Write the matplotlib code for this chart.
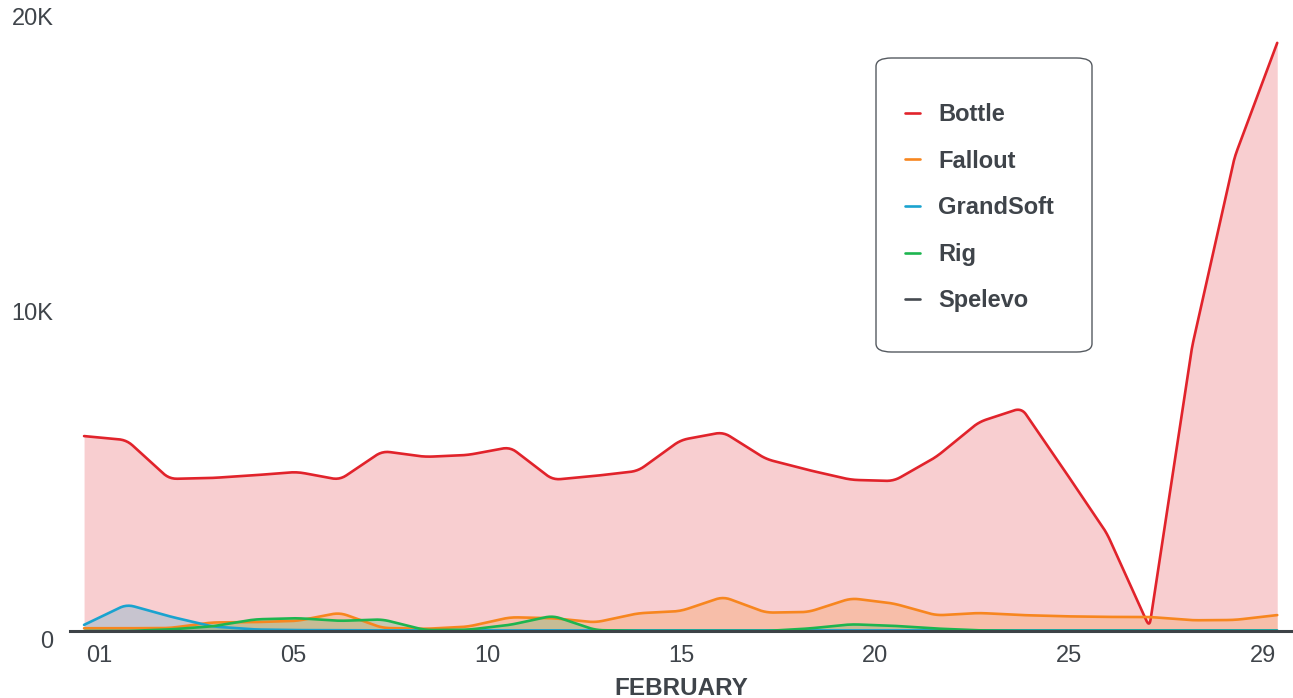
import numpy as np
import matplotlib.pyplot as plt
from matplotlib.patches import FancyBboxPatch

# ================================
# DATA (daily values, February)
# ================================
days = list(range(1, 30))

bottle = [6370, 6240, 4970, 5000, 5090, 5200, 4940, 5880, 5690, 5750,
          6010, 4940, 5070, 5230, 6240, 6500, 5620, 5260, 4940, 4900,
          5690, 6830, 7290, 5260, 3200, 120, 9280, 15490, 19220]
fallout = [90, 90, 95, 280, 290, 330, 600, 100, 70, 140,
           450, 420, 280, 580, 650, 1120, 600, 620, 1070, 900,
           510, 590, 520, 480, 460, 460, 350, 360, 520]
grandsoft = [200, 870, 480, 150, 50, 30, 25, 20, 20, 20,
             20, 20, 20, 20, 20, 20, 20, 20, 20, 20,
             20, 20, 20, 20, 20, 20, 20, 20, 20]
rig = [0, 0, 50, 150, 380, 420, 330, 380, 30, 40,
       200, 500, 30, 0, 0, 0, 0, 80, 220, 170,
       80, 20, 0, 0, 0, 0, 0, 0, 0]
spelevo = [0] * 29

series = ["Bottle", "Fallout", "GrandSoft", "Rig", "Spelevo"]
values = [bottle, fallout, grandsoft, rig, spelevo]
colors = ["#e1232b", "#f7861f", "#1aa3cf", "#1db54f", "#454a50"]

xtick_labels = ["01", "05", "10", "15", "20", "25", "29"]
ytick_vals = [0, 10000, 20000]
ytick_labels = ["0", "10K", "20K"]

FONT = "Liberation Sans"
TXT = "#3f444a"

W, H = 1293, 698
XLIM = (0.67, 29.37)
YLIM = (0, 20000)
AX_PX = (70, 19, 1293, 631)   # left, top, right, bottom in pixels


def rounded_line(x, y, sx, sy, radius=8, n=12):
    # straight segments with the corners softened by a few pixels
    p = np.column_stack([np.asarray(x, float) * sx, np.asarray(y, float) * sy])
    out = [p[:1]]
    for i in range(1, len(p) - 1):
        v_in = p[i] - p[i - 1]
        v_out = p[i + 1] - p[i]
        d_in, d_out = np.linalg.norm(v_in), np.linalg.norm(v_out)
        r = min(radius, 0.45 * d_in, 0.45 * d_out)
        a = p[i] - v_in / d_in * r
        b = p[i] + v_out / d_out * r
        t = np.linspace(0, 1, n)[:, None]
        out.append((1 - t) ** 2 * a + 2 * (1 - t) * t * p[i] + t ** 2 * b)
    out.append(p[-1:])
    pts = np.vstack(out)
    return pts[:, 0] / sx, pts[:, 1] / sy


fig = plt.figure(figsize=(W / 100, H / 100), dpi=100)
l, t_, r, b = AX_PX
ax = fig.add_axes([l / W, (H - b) / H, (r - l) / W, (b - t_) / H])
ax.set_xlim(*XLIM)
ax.set_ylim(*YLIM)

sx = (r - l) / (XLIM[1] - XLIM[0])
sy = (b - t_) / (YLIM[1] - YLIM[0])
curves = [rounded_line(days, v, sx, sy) for v in values]

# fills first, then lines
for (xs, ys), c in zip(curves, colors):
    ax.fill_between(xs, 0, ys, color=c, alpha=0.22, lw=0)
for (xs, ys), c, name in zip(curves, colors, series):
    ax.plot(xs, ys, color=c, lw=1.9, label=name, solid_capstyle="round",
            solid_joinstyle="round", clip_on=False)

for sp in ["left", "right", "top"]:
    ax.spines[sp].set_visible(False)
ax.spines["bottom"].set_color("#3d4247")
ax.spines["bottom"].set_linewidth(2.2)
ax.spines["bottom"].set_zorder(5)

# x labels spread evenly along the axis
ax.set_xticks(np.linspace(1.35, 28.67, len(xtick_labels)))
ax.set_xticklabels(xtick_labels, fontsize=17, color=TXT, family=FONT)
ax.tick_params(axis="x", length=0, pad=10)

ax.set_yticks(ytick_vals)
ax.set_yticklabels(ytick_labels, fontsize=17, color=TXT, family=FONT)
ax.tick_params(axis="y", length=0, pad=12)
ylabs = ax.get_yticklabels()
ylabs[0].set_va("top")
ylabs[1].set_va("bottom")
ylabs[2].set_va("center")

ax.set_xlabel("FEBRUARY", fontsize=17.5, fontweight="bold", color=TXT,
              family=FONT, labelpad=7)

# legend box drawn by hand, entries with a frameless legend
box = FancyBboxPatch((876 / W, 1 - 352 / H), (1092 - 876) / W, (352 - 58) / H,
                     boxstyle="round,pad=0,rounding_size=0.012",
                     transform=fig.transFigure, facecolor="none",
                     edgecolor="#555a60", lw=1.0, zorder=3)
fig.patches.append(box)

leg = ax.legend(loc="upper left", bbox_to_anchor=(905 / W, 1 - 103 / H),
                bbox_transform=fig.transFigure, frameon=False,
                prop={"family": FONT, "weight": "bold", "size": 17},
                handlelength=0.64, handletextpad=0.76, labelspacing=1.0,
                borderpad=0, borderaxespad=0)
leg.set_zorder(6)
for txt in leg.get_texts():
    txt.set_color(TXT)

plt.savefig("out.png", dpi=100)
